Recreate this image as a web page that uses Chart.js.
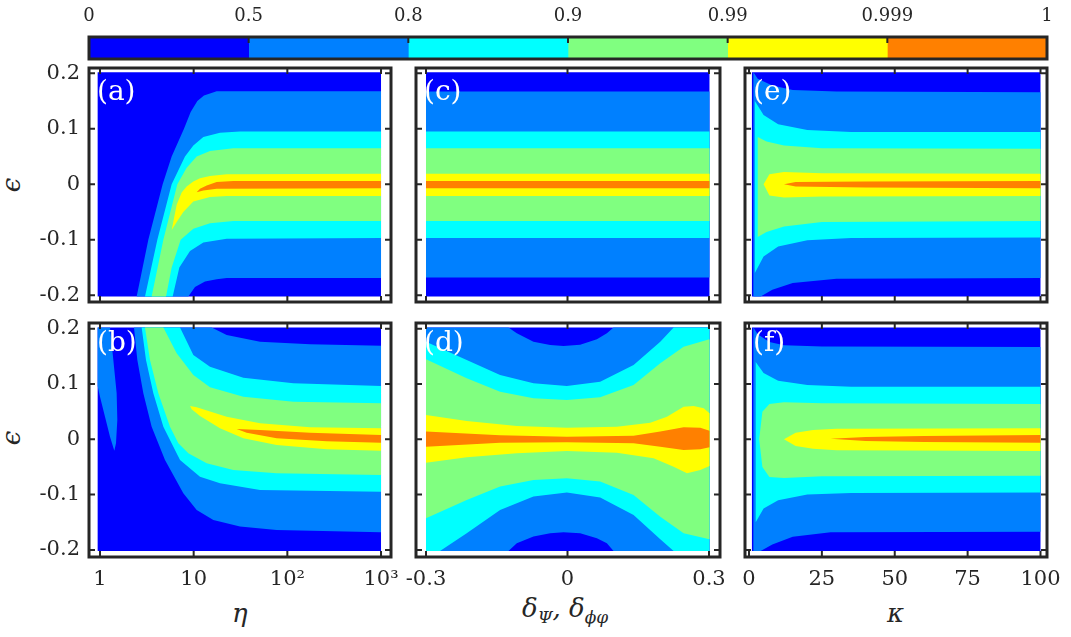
<!DOCTYPE html>
<html>
<head>
<meta charset="utf-8">
<script src="https://cdn.jsdelivr.net/npm/chart.js@4.4.0/dist/chart.umd.min.js"></script>
<style>
  body { margin: 0; background: #fff; }
  #fig { position: relative; width: 1071px; height: 637px; overflow: hidden;
         font-family: "DejaVu Serif", serif; color: #262626; }
  .box { position: absolute; }
  .tag { position: absolute; color: #fff; font-size: 28px; line-height: 1; }
  .lbl { position: absolute; font-style: italic; font-size: 26px; line-height: 1; white-space: nowrap; }
  .lbl sub { font-size: 17px; vertical-align: -6px; }
</style>
</head>
<body>
<div id="fig">
  <div class="lbl" style="left:4px;top:172px;transform:rotate(-90deg);">ϵ</div>
  <div class="lbl" style="left:4px;top:425px;transform:rotate(-90deg);">ϵ</div>
  <div class="lbl" style="left:232px;top:600px;">η</div>
  <div class="lbl" style="left:522px;top:595px;">δ<sub>Ψ</sub>, δ<sub>ϕφ</sub></div>
  <div class="lbl" style="left:887px;top:600px;">κ</div>
</div>
<script>
// ---- colour levels (fidelity) ----
const levelColors = ["#0000ff", "#0080ff", "#00ffff", "#80ff80", "#ffff00", "#ff8000"];
const levelLabels = ["0", "0.5", "0.8", "0.9", "0.99", "0.999", "1"];

// ---- axis ticks ----
const epsTicks = [-0.2, -0.1, 0, 0.1, 0.2];
const epsTickLabels = ["-0.2", "-0.1", "0", "0.1", "0.2"];
const etaTicks = [1, 10, 100, 1000];
const etaTickLabels = ["1", "10", "10²", "10³"];
const deltaTicks = [-0.3, 0, 0.3];
const deltaTickLabels = ["-0.3", "0", "0.3"];
const kappaTicks = [0, 25, 50, 75, 100];
const kappaTickLabels = ["0", "25", "50", "75", "100"];

// sampled extents of each parameter
const epsSpan = [-0.202, 0.202];
const etaSpan = [0.944, 1000];
const deltaSpan = [-0.3, 0.301];
const kappaSpan = [1, 100];

// ---- (a) fidelity vs eta, contour regions [eta, eps] ----
const aBlue = [[2.464,-0.202],[3.281,-0.1],[4.667,0],[5.823,0.05],[7.883,0.1],[9.289,0.13],[10.95,0.15],[12.89,0.16],[17.6,0.1675],[1000,0.1675],[1000,-0.169],[22.5,-0.169],[17.6,-0.171],[13.21,-0.175],[10.33,-0.185],[8.772,-0.202]];
const aCyan = [[3.023,-0.202],[4.094,-0.1],[5.823,0],[8.077,0.05],[9.918,0.07],[12.68,0.085],[19.1,0.093],[31.24,0.095],[1000,0.095],[1000,-0.097],[22.5,-0.098],[12.68,-0.105],[9.141,-0.12],[7.031,-0.15],[5.968,-0.202]];
const aGreen = [[3.561,-0.202],[4.746,-0.1],[6.693,0],[8.42,0.03],[10.77,0.05],[14.94,0.06],[26.51,0.065],[1000,0.065],[1000,-0.066],[26.51,-0.066],[14.94,-0.07],[9.918,-0.08],[7.265,-0.1],[5.823,-0.15],[5.066,-0.202]];
const aYellow = [[5.823,-0.0825],[6.584,-0.037],[7.446,-0.015],[8.42,-0.004],[9.918,0.005],[11.68,0.011],[14.94,0.015],[22.5,0.018],[1000,0.019],[1000,-0.021],[22.5,-0.021],[14.94,-0.023],[9.918,-0.031],[7.753,-0.05],[6.584,-0.068]];
const aOrange = [[10.77,-0.0145],[11.68,-0.008],[13.77,-0.002],[17.6,0.004],[26.51,0.006],[1000,0.006],[1000,-0.007],[17.6,-0.008],[12.68,-0.011]];

// ---- (b) ----
const bLobe = [[0.944,0.202],[1.279,0.202],[1.388,0.1434],[1.506,0.0831],[1.531,0.0349],[1.482,-0.0072],[1.422,-0.0205],[1.279,0.0048],[1.131,0.041],[1.0,0.0771],[0.944,0.0964]];
const bBlue = [[2.307,0.202],[15.57,0.202],[22.5,0.1886],[51.08,0.1765],[174.6,0.1717],[1000,0.1693],[1000,-0.1681],[76.9,-0.1639],[31.24,-0.1578],[16.22,-0.1458],[10.77,-0.1277],[7.753,-0.0976],[4.943,-0.0373],[3.561,0.0229],[2.901,0.0831],[2.504,0.1434]];
const bCyan = [[2.785,0.202],[7.147,0.202],[9.918,0.1524],[14.94,0.1313],[33.9,0.1114],[115.9,0.1012],[1000,0.0964],[1000,-0.0946],[51.08,-0.0916],[19.1,-0.0795],[11.68,-0.0675],[7.147,-0.0373],[4.746,0.0229],[3.71,0.0831],[3.098,0.1434]];
const bGreen = [[3.023,0.202],[4.746,0.202],[6.584,0.1554],[9.918,0.1163],[14.94,0.094],[33.9,0.0771],[115.9,0.0681],[1000,0.0651],[1000,-0.0645],[76.9,-0.0614],[26.51,-0.0554],[13.77,-0.0434],[8.772,-0.0253],[6.86,-0.0072],[5.588,0.0229],[4.196,0.0831],[3.418,0.1434]];
const bYellow = [[9.141,0.0602],[10.77,0.0578],[22.5,0.041],[51.08,0.0289],[174.6,0.0217],[1000,0.0199],[1000,-0.0205],[263,-0.0181],[76.9,-0.0102],[33.9,0.0018],[19.1,0.0199],[11.68,0.0422],[9.52,0.0542]];
const bOrange = [[28.78,0.0187],[51.08,0.0169],[174.6,0.012],[1000,0.0078],[1000,-0.006],[263,-0.0036],[76.9,0.0018],[36.8,0.012]];

// ---- (c) flat bands [lower, upper] per level ----
const cBands = [[-0.202,0.202],[-0.168,0.167],[-0.097,0.095],[-0.066,0.065],[-0.021,0.019],[-0.007,0.006]];

// ---- (d) regions [delta, eps] ----
const dBlue = [[-0.3,0.202],[-0.1252,0.202],[-0.1075,0.1916],[-0.0722,0.1765],[-0.0368,0.1705],[-0.0085,0.1687],[0.0269,0.1711],[0.0623,0.1807],[0.0835,0.1916],[0.0976,0.202],[0.301,0.202],[0.301,-0.202],[0.0976,-0.202],[0.0835,-0.188],[0.0623,-0.1789],[0.0269,-0.1699],[-0.0085,-0.1681],[-0.0368,-0.1699],[-0.0722,-0.1759],[-0.1075,-0.188],[-0.1252,-0.202],[-0.3,-0.202]];
const dCyan = [[-0.3,0.1765],[-0.2137,0.1434],[-0.1429,0.1163],[-0.0722,0.1012],[-0.0014,0.0964],[0.0693,0.1042],[0.1401,0.1343],[0.1967,0.1765],[0.225,0.202],[0.301,0.202],[0.301,-0.202],[0.225,-0.202],[0.1967,-0.1807],[0.1401,-0.1367],[0.0693,-0.1054],[-0.0014,-0.0964],[-0.0722,-0.1036],[-0.1429,-0.1277],[-0.2137,-0.1699],[-0.2703,-0.202],[-0.3,-0.202]];
const dGreen = [[-0.3,0.1446],[-0.2137,0.1102],[-0.1429,0.0861],[-0.0722,0.0741],[-0.0014,0.0711],[0.0693,0.0759],[0.1401,0.0982],[0.1967,0.1373],[0.2462,0.1675],[0.301,0.1807],[0.301,-0.1807],[0.2462,-0.1699],[0.1967,-0.1398],[0.1401,-0.1006],[0.0693,-0.0765],[-0.0014,-0.0705],[-0.0722,-0.0735],[-0.1429,-0.0855],[-0.2137,-0.1096],[-0.3,-0.1428]];
const dYellow = [[-0.3,0.044],[-0.2137,0.0331],[-0.1075,0.0241],[-0.0014,0.0211],[0.1047,0.0229],[0.1755,0.0301],[0.2108,0.041],[0.2462,0.059],[0.2674,0.0602],[0.2887,0.056],[0.301,0.047],[0.301,-0.0482],[0.2816,-0.0554],[0.2533,-0.0614],[0.225,-0.0494],[0.1825,-0.0343],[0.1047,-0.0241],[-0.0014,-0.0211],[-0.1075,-0.0253],[-0.2137,-0.0325],[-0.3,-0.0422]];
const dOrange = [[-0.3,0.0139],[-0.1429,0.0072],[-0.0014,0.0048],[0.1401,0.0066],[0.1967,0.0139],[0.2462,0.0217],[0.2816,0.0211],[0.301,0.0157],[0.301,-0.0145],[0.2816,-0.0181],[0.2462,-0.0193],[0.1967,-0.0133],[0.1401,-0.0072],[-0.0014,-0.0054],[-0.1429,-0.006],[-0.3,-0.0133]];

// ---- (e) regions [kappa, eps] ----
const eBlue = [[1.5,0.202],[3,0.19],[8,0.178],[15,0.17],[30,0.167],[100,0.166],[100,-0.169],[30,-0.17],[15,-0.178],[8,-0.19],[4,-0.202],[1.5,-0.202]];
const eCyan = [[2,0.15],[5,0.125],[10,0.108],[20,0.098],[35,0.094],[100,0.094],[100,-0.096],[35,-0.097],[20,-0.101],[10,-0.112],[5,-0.13],[2,-0.16]];
const eGreen = [[3,0.085],[6,0.077],[12,0.07],[25,0.065],[100,0.064],[100,-0.066],[25,-0.068],[12,-0.076],[6,-0.086],[3,-0.095]];
const eYellow = [[5,0],[7,0.018],[12,0.022],[25,0.02],[100,0.019],[100,-0.021],[25,-0.022],[12,-0.024],[7,-0.02]];
const eOrange = [[12,0],[16,0.004],[40,0.005],[100,0.006],[100,-0.007],[40,-0.006],[16,-0.004]];

// ---- (f) ----
const fBlue = [[1.5,0.202],[3,0.19],[7,0.176],[12,0.17],[25,0.168],[100,0.167],[100,-0.167],[28,-0.168],[15,-0.176],[8,-0.19],[4,-0.202],[1.5,-0.202]];
const fCyan = [[2.3,0.14],[5,0.12],[10,0.106],[20,0.098],[35,0.095],[100,0.095],[100,-0.096],[35,-0.097],[20,-0.1],[10,-0.11],[5,-0.125],[2.3,-0.15]];
const fGreen = [[3.5,0],[4.6,0.05],[7,0.064],[12,0.067],[25,0.065],[100,0.064],[100,-0.066],[25,-0.067],[12,-0.07],[7,-0.068],[4.6,-0.05]];
const fYellow = [[12,0],[16,0.012],[22,0.017],[30,0.019],[100,0.02],[100,-0.021],[30,-0.02],[22,-0.017],[16,-0.012]];
const fOrange = [[28,0.001],[40,0.004],[60,0.006],[100,0.008],[100,-0.006],[60,-0.005],[40,-0.003]];

// ---- layout (pixel boxes of the frames) ----
const colBox = [[89, 391], [416, 720], [745, 1047]];
const rowBox = [[68, 302], [323, 557]];
const colRange = [[0.7632, 1278], [-0.3212, 0.3233], [-1.372, 102.23]];
const rowRange = [[-0.2121, 0.2095], [-0.2128, 0.2103]];
const xTicksByCol = [etaTicks, deltaTicks, kappaTicks];
const xLabelsByCol = [etaTickLabels, deltaTickLabels, kappaTickLabels];
const spanByCol = [etaSpan, deltaSpan, kappaSpan];

Chart.defaults.font.family = '"DejaVu Serif", serif';
Chart.defaults.color = "#262626";

const fig = document.getElementById("fig");

function rect(xs, [lo, hi]) {
  return [[xs[0], lo], [xs[1], lo], [xs[1], hi], [xs[0], hi]];
}

function region(points, level) {
  return {
    data: points.map(([x, y]) => ({ x, y })),
    fill: "shape",
    backgroundColor: levelColors[level],
    borderColor: "transparent",
    borderWidth: 0,
    pointRadius: 0,
    tension: 0,
    order: 10 - level
  };
}

// frame with inward ticks, like the matlab box
const framePlugin = {
  id: "frame",
  afterDraw(chart, args, opts) {
    const { ctx, chartArea: a, scales } = chart;
    ctx.save();
    ctx.strokeStyle = "#262626";
    ctx.lineWidth = 2;
    ctx.beginPath();
    (opts.xTicks || []).forEach(v => {
      const px = scales.x.getPixelForValue(v);
      ctx.moveTo(px, a.top); ctx.lineTo(px, a.top + 6);
      if (opts.bothX) { ctx.moveTo(px, a.bottom); ctx.lineTo(px, a.bottom - 6); }
    });
    (opts.yTicks || []).forEach(v => {
      const py = scales.y.getPixelForValue(v);
      ctx.moveTo(a.left, py); ctx.lineTo(a.left + 6, py);
      ctx.moveTo(a.right, py); ctx.lineTo(a.right - 6, py);
    });
    ctx.stroke();
    ctx.lineWidth = 3;
    ctx.strokeRect(a.left, a.top, a.right - a.left, a.bottom - a.top);
    ctx.restore();
  }
};

function addBox(left, top, width, height) {
  const wrap = document.createElement("div");
  wrap.className = "box";
  Object.assign(wrap.style, { left: left + "px", top: top + "px", width: width + "px", height: height + "px" });
  const cv = document.createElement("canvas");
  wrap.appendChild(cv);
  fig.appendChild(wrap);
  return cv;
}

function makePanel(p) {
  const [l, r] = colBox[p.col], [t, b] = rowBox[p.row];
  const showY = p.col === 0, showX = p.row === 1;
  const PL = 90, PR = 30, PT = 25, PB = 50;
  const cv = addBox(l - PL, t - PT, r - l + PL + PR, b - t + PT + PB);
  const span = spanByCol[p.col];
  const regions = [[rect(span, epsSpan), 0]].concat(p.regions);
  const xTicks = xTicksByCol[p.col], xLabels = xLabelsByCol[p.col];

  new Chart(cv, {
    type: "line",
    data: { datasets: regions.map(([pts, lev]) => region(pts, lev)) },
    options: {
      responsive: true,
      maintainAspectRatio: false,
      animation: false,
      events: [],
      layout: { padding: { left: showY ? PL - 60 : PL, right: PR, top: PT, bottom: showX ? PB - 40 : PB } },
      plugins: {
        legend: { display: false },
        tooltip: { enabled: false },
        frame: { xTicks, yTicks: epsTicks, bothX: true }
      },
      scales: {
        x: {
          type: p.col === 0 ? "logarithmic" : "linear",
          min: colRange[p.col][0],
          max: colRange[p.col][1],
          display: showX,
          grid: { display: false, drawTicks: false },
          border: { display: false },
          ticks: { padding: 12, maxRotation: 0, autoSkip: false, font: { size: 21, lineHeight: 1 },
                   callback: (v, i) => xLabels[i] },
          afterBuildTicks: s => { s.ticks = xTicks.map(v => ({ value: v })); },
          afterFit: showX ? s => { s.height = 40; s.paddingLeft = 0; s.paddingRight = 0; } : undefined
        },
        y: {
          type: "linear",
          min: rowRange[p.row][0],
          max: rowRange[p.row][1],
          display: showY,
          grid: { display: false, drawTicks: false },
          border: { display: false },
          ticks: { padding: 9, font: { size: 21, lineHeight: 1 }, callback: (v, i) => epsTickLabels[i] },
          afterBuildTicks: s => { s.ticks = epsTicks.map(v => ({ value: v })); },
          afterFit: showY ? s => { s.width = 60; s.paddingTop = 0; s.paddingBottom = 0; } : undefined
        }
      }
    },
    plugins: [framePlugin]
  });

  const tag = document.createElement("div");
  tag.className = "tag";
  tag.textContent = p.tag;
  tag.style.left = (l + 8) + "px";
  tag.style.top = (p.row === 0 ? 77 : 328) + "px";
  fig.appendChild(tag);
}

const panels = [
  { col: 0, row: 0, tag: "(a)", regions: [[aBlue, 1], [aCyan, 2], [aGreen, 3], [aYellow, 4], [aOrange, 5]] },
  { col: 0, row: 1, tag: "(b)", regions: [[bLobe, 1], [bBlue, 1], [bCyan, 2], [bGreen, 3], [bYellow, 4], [bOrange, 5]] },
  { col: 1, row: 0, tag: "(c)", regions: cBands.slice(1).map((band, i) => [rect(deltaSpan, band), i + 1]) },
  { col: 1, row: 1, tag: "(d)", regions: [[dBlue, 1], [dCyan, 2], [dGreen, 3], [dYellow, 4], [dOrange, 5]] },
  { col: 2, row: 0, tag: "(e)", regions: [[eBlue, 1], [eCyan, 2], [eGreen, 3], [eYellow, 4], [eOrange, 5]] },
  { col: 2, row: 1, tag: "(f)", regions: [[fBlue, 1], [fCyan, 2], [fGreen, 3], [fYellow, 4], [fOrange, 5]] }
];
panels.forEach(makePanel);

// ---- colour bar ----
const cbLeft = 89, cbRight = 1047, cbTop = 37, cbBottom = 59;
const cbCanvas = addBox(cbLeft - 40, 0, cbRight - cbLeft + 80, cbBottom + 10);
const cbTicks = levelLabels.map((_, i) => i);
new Chart(cbCanvas, {
  type: "bar",
  data: {
    labels: ["F"],
    datasets: levelColors.map(c => ({ data: [1], backgroundColor: c, borderWidth: 0, barPercentage: 1, categoryPercentage: 1 }))
  },
  options: {
    indexAxis: "y",
    responsive: true,
    maintainAspectRatio: false,
    animation: false,
    events: [],
    layout: { padding: { left: 40, right: 40, top: 0, bottom: 10 } },
    plugins: { legend: { display: false }, tooltip: { enabled: false },
               frame: { xTicks: cbTicks.slice(1, -1), yTicks: [], bothX: false } },
    scales: {
      x: {
        type: "linear", position: "top", stacked: true, min: 0, max: 6,
        grid: { display: false, drawTicks: false },
        border: { display: false },
        ticks: { padding: 12, maxRotation: 0, autoSkip: false, font: { size: 18, lineHeight: 1 },
                 callback: (v, i) => levelLabels[i] },
        afterBuildTicks: s => { s.ticks = cbTicks.map(v => ({ value: v })); },
        afterFit: s => { s.height = cbTop; s.paddingLeft = 0; s.paddingRight = 0; }
      },
      y: { stacked: true, display: false }
    }
  },
  plugins: [framePlugin]
});
</script>
</body>
</html>
